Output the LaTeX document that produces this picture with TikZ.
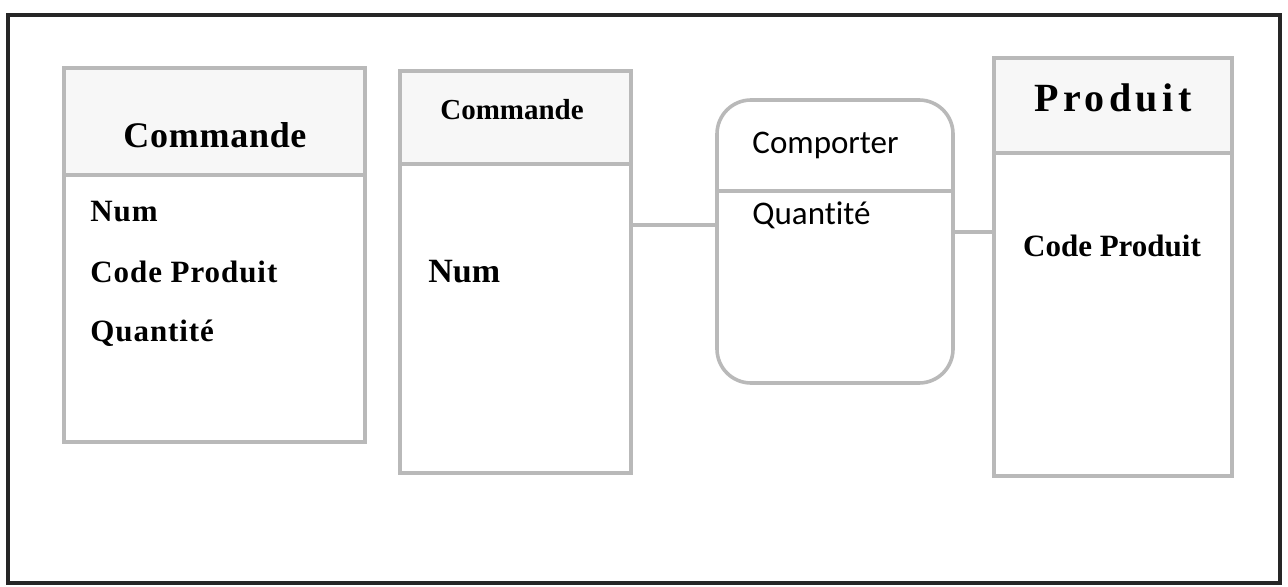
\documentclass[tikz,border=0pt]{standalone}
\usepackage{fontspec}
\setmainfont{Liberation Serif}
\newfontfamily\calib[Ligatures=NoCommon]{Carlito}
\begin{document}
\begin{tikzpicture}[x=0.5pt,y=-0.5pt,
  ent/.style={draw=gray!55, line width=1.8pt, rectangle, inner sep=0pt},
  assoc/.style={ent, rounded corners=17pt},
  divline/.style={draw=gray!55, line width=1.8pt},
  link/.style={draw=gray!55, line width=1.8pt},
  hdrfill/.style={fill=gray!6},
  ttl/.style={font=\bfseries, inner sep=0pt},
  attr/.style={font=\bfseries, inner sep=0pt, anchor=west},
  sattr/.style={font=\calib, inner sep=0pt, anchor=west}
]
\useasboundingbox (0,0) rectangle (1288,587);
% outer frame
\draw[line width=1.6pt, draw=black!85] (8,15) rectangle (1280,583);

% header shading
\fill[hdrfill] (64,68) rectangle (365,175);
\fill[hdrfill] (400,71) rectangle (631,164);
\fill[hdrfill] (994,58) rectangle (1232,153);

% entity boxes
\node[ent, minimum width=150.5pt, minimum height=187pt] (cmd1) at (214.5,255) {};
\node[ent, minimum width=115.5pt, minimum height=201pt] (cmd2) at (515.5,272) {};
\node[assoc, minimum width=118pt, minimum height=141.5pt] (comp) at (835,241.5) {};
\node[ent, minimum width=119pt, minimum height=209pt] (prod) at (1113,267) {};

% header separators
\coordinate (d1) at (0,175);
\coordinate (d2) at (0,164);
\coordinate (d3) at (0,191);
\coordinate (d4) at (0,153);
\draw[divline] (cmd1.west |- d1) -- (cmd1.east |- d1);
\draw[divline] (cmd2.west |- d2) -- (cmd2.east |- d2);
\draw[divline] (comp.west |- d3) -- (comp.east |- d3);
\draw[divline] (prod.west |- d4) -- (prod.east |- d4);

% links
\coordinate (l1) at (0,225);
\coordinate (l2) at (0,232);
\draw[link] (cmd2.east |- l1) -- (comp.west |- l1);
\draw[link] (comp.east |- l2) -- (prod.west |- l2);

% texts
\node[ttl, font=\fontsize{18}{20}\selectfont\bfseries\addfontfeature{LetterSpace=2}] (t1) at (215,135) {Commande};
\node[attr, font=\fontsize{15.5}{17}\selectfont\bfseries\addfontfeature{LetterSpace=3}] (a1) at (90,212) {Num};
\node[attr, font=\fontsize{15.5}{17}\selectfont\bfseries\addfontfeature{LetterSpace=3}] (a2) at (90,272) {Code Produit};
\node[attr, font=\fontsize{15.5}{17}\selectfont\bfseries\addfontfeature{LetterSpace=3}] (a3) at (90,333) {Quantité};

\node[ttl, font=\fontsize{14.5}{16}\selectfont\bfseries] (t2) at (512,110) {Commande};
\node[attr, font=\fontsize{17}{19}\selectfont\bfseries] (a4) at (428,272) {Num};

\node[sattr, font=\fontsize{16.5}{18}\selectfont\calib] (t3) at (752,145) {Comporter};
\node[sattr, font=\fontsize{16.5}{18}\selectfont\calib] (a5) at (752,215) {Quantité};

\node[ttl, font=\fontsize{20}{22}\selectfont\bfseries\addfontfeature{LetterSpace=11}] (t4) at (1113,98) {Produit};
\node[ttl, font=\fontsize{15.5}{17}\selectfont\bfseries] (a6) at (1112,246) {Code Produit};
\end{tikzpicture}
\end{document}
